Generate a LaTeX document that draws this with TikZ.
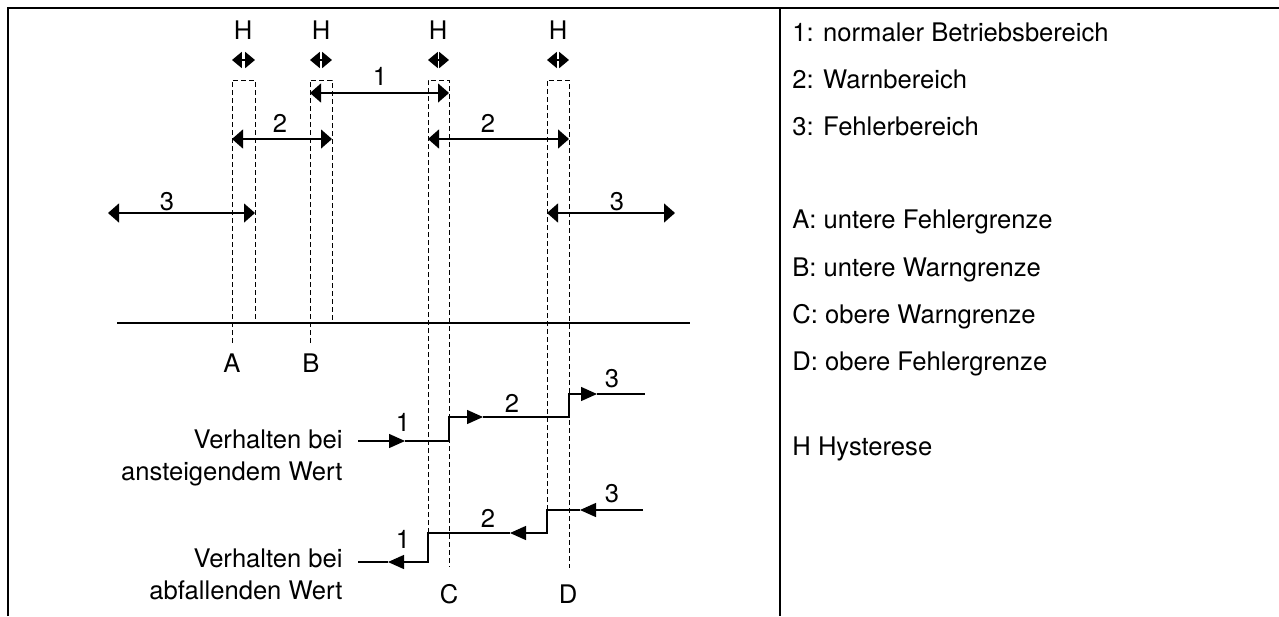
\documentclass[tikz,border=0pt]{standalone}
\usepackage{fontspec}
\setmainfont{TeX Gyre Heros}
\usetikzlibrary{arrows.meta}

\tikzset{
  every node/.style={inner sep=0pt, font=\fontsize{12.8pt}{16pt}\selectfont},
  frameline/.style={line width=1pt},
  hyst/.style={line width=0.5pt, dash pattern=on 2.5pt off 1.5pt},
  spanarrow/.style={line width=0.7pt, {Triangle[length=5.5pt,width=9.5pt]}-{Triangle[length=5.5pt,width=9.5pt]}},
  hyarrow/.style={line width=0.7pt, {Triangle[length=4.9pt,width=8pt]}-{Triangle[length=4.9pt,width=8pt]}},
  flowarrow/.style={line width=0.7pt, -{Triangle[length=8pt,width=7pt]}},
  plainline/.style={line width=0.7pt},
  lab/.style={anchor=base}
}

\begin{document}
\begin{tikzpicture}[x=0.5pt, y=-0.5pt]
  \useasboundingbox (0,0) rectangle (1279,616);
  % frame
  \draw[frameline] (8,616) -- (8,8) -- (1279,8);
  \draw[frameline] (780,8) -- (780,616);

  % hysteresis boxes
  \coordinate (Atl) at (232,80);  \coordinate (Atr) at (255,80);
  \coordinate (Abl) at (232,343); \coordinate (Abr) at (255,323);
  \coordinate (Btl) at (310,80);  \coordinate (Btr) at (332,80);
  \coordinate (Bbl) at (310,343); \coordinate (Bbr) at (332,323);
  \coordinate (Ctl) at (428,80);  \coordinate (Ctr) at (449,80);
  \coordinate (Cbl) at (428,533); \coordinate (Cbr) at (449,567);
  \coordinate (Dtl) at (547,80);  \coordinate (Dtr) at (569,80);
  \coordinate (Dbl) at (547,510); \coordinate (Dbr) at (569,568);
  \draw[hyst] (Abl) -- (Atl) -- (Atr) -- (Abr);
  \draw[hyst] (Bbl) -- (Btl) -- (Btr) -- (Bbr);
  \draw[hyst] (Cbl) -- (Ctl) -- (Ctr) -- (Cbr);
  \draw[hyst] (Dbl) -- (Dtl) -- (Dtr) -- (Dbr);

  % H marks
  \node[lab] (HA) at (243,39) {H};
  \node[lab] (HB) at (321,39) {H};
  \node[lab] (HC) at (438,39) {H};
  \node[lab] (HD) at (558,39) {H};
  \coordinate (hA1) at (232,60); \coordinate (hA2) at (255,60);
  \coordinate (hB1) at (310,60); \coordinate (hB2) at (332,60);
  \coordinate (hC1) at (428,60); \coordinate (hC2) at (449,60);
  \coordinate (hD1) at (547,60); \coordinate (hD2) at (569,60);
  \draw[hyarrow] (hA1) -- (hA2);
  \draw[hyarrow] (hB1) -- (hB2);
  \draw[hyarrow] (hC1) -- (hC2);
  \draw[hyarrow] (hD1) -- (hD2);

  % ranges
  \coordinate (n1a) at (310,93);  \coordinate (n1b) at (449,93);
  \coordinate (w2a) at (232,139); \coordinate (w2b) at (332,139);
  \coordinate (w2c) at (428,139); \coordinate (w2d) at (569,139);
  \coordinate (f3a) at (108,213); \coordinate (f3b) at (255,213);
  \coordinate (f3c) at (547,213); \coordinate (f3d) at (675,213);
  \draw[spanarrow] (n1a) -- (n1b);
  \draw[spanarrow] (w2a) -- (w2b);
  \draw[spanarrow] (w2c) -- (w2d);
  \draw[spanarrow] (f3a) -- (f3b);
  \draw[spanarrow] (f3c) -- (f3d);
  \node[lab] (r1) at (380,85) {1};
  \node[lab] (r2l) at (280,132) {2};
  \node[lab] (r2r) at (488,132) {2};
  \node[lab] (r3l) at (167,210) {3};
  \node[lab] (r3r) at (617,210) {3};

  % axis
  \coordinate (ax0) at (117,323); \coordinate (ax1) at (690,323);
  \draw[plainline] (ax0) -- (ax1);
  \node[lab] (A) at (232,372) {A};
  \node[lab] (B) at (311,372) {B};
  \node[lab] (C) at (449,603) {C};
  \node[lab] (D) at (568,603) {D};

  % rising value
  \node[anchor=base east, align=right] (rise) at (343,480) {Verhalten bei\\ansteigendem Wert};
  \coordinate (up0) at (358,441); \coordinate (up1) at (405,441);
  \coordinate (up2) at (449,441); \coordinate (up3) at (449,417);
  \coordinate (up4) at (483,417); \coordinate (up5) at (569,417);
  \coordinate (up6) at (569,394); \coordinate (up7) at (597,394);
  \coordinate (up8) at (645,394);
  \draw[flowarrow] (up0) -- (up1);
  \draw[flowarrow] (up1) -- (up2) -- (up3) -- (up4);
  \draw[flowarrow] (up4) -- (up5) -- (up6) -- (up7);
  \draw[plainline] (up7) -- (up8);
  \node[lab] (u1) at (403,431) {1};
  \node[lab] (u2) at (512,412) {2};
  \node[lab] (u3) at (612,387) {3};

  % falling value
  \node[anchor=base east, align=right] (fall) at (343,599) {Verhalten bei\\abfallenden Wert};
  \coordinate (dn0) at (643,510); \coordinate (dn1) at (580,510);
  \coordinate (dn2) at (547,510); \coordinate (dn3) at (547,533);
  \coordinate (dn4) at (510,533); \coordinate (dn5) at (428,533);
  \coordinate (dn6) at (428,562); \coordinate (dn7) at (388,562);
  \coordinate (dn8) at (358,562);
  \draw[flowarrow] (dn0) -- (dn1);
  \draw[flowarrow] (dn1) -- (dn2) -- (dn3) -- (dn4);
  \draw[flowarrow] (dn4) -- (dn5) -- (dn6) -- (dn7);
  \draw[plainline] (dn7) -- (dn8);
  \node[lab] (d3) at (612,502) {3};
  \node[lab] (d2) at (488,527) {2};
  \node[lab] (d1) at (403,548) {1};

  % legend
  \node[anchor=base west] (L1) at (792,41) {1: normaler Betriebsbereich};
  \node[anchor=base west] (L2) at (792,88) {2: Warnbereich};
  \node[anchor=base west] (L3) at (792,135) {3: Fehlerbereich};
  \node[anchor=base west] (LA) at (792,228) {A: untere Fehlergrenze};
  \node[anchor=base west] (LB) at (792,276) {B: untere Warngrenze};
  \node[anchor=base west] (LC) at (792,323) {C: obere Warngrenze};
  \node[anchor=base west] (LD) at (792,370) {D: obere Fehlergrenze};
  \node[anchor=base west] (LH) at (792,455) {H Hysterese};
\end{tikzpicture}
\end{document}
